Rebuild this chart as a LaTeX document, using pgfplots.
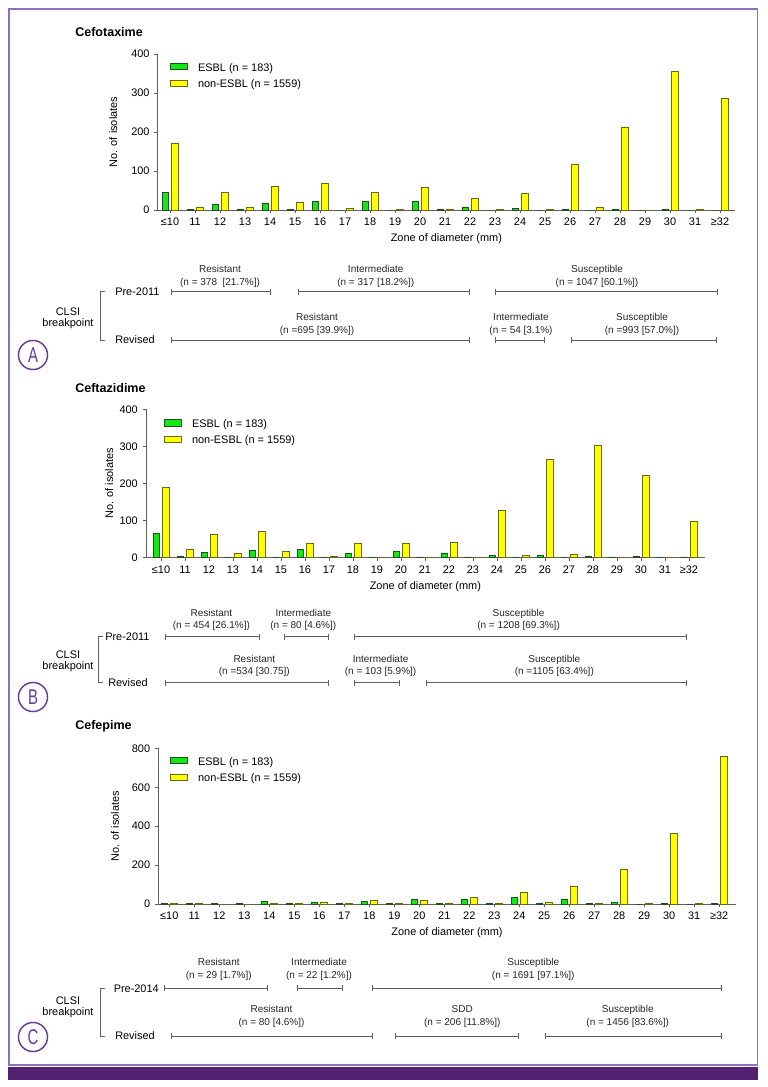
\documentclass[border=0pt]{standalone}
\usepackage{fontspec}
\setmainfont{Liberation Sans}
\usepackage{pgfplots}
\usepackage{pgfplotstable}
\pgfplotsset{compat=1.18}
\usetikzlibrary{arrows.meta}

\definecolor{framecol}{RGB}{145,110,190}
\definecolor{bandcol}{RGB}{84,32,112}
\definecolor{circcol}{RGB}{105,60,155}
\definecolor{esblfill}{RGB}{20,232,20}
\definecolor{esbldraw}{RGB}{30,80,30}
\definecolor{nonfill}{RGB}{255,255,0}
\definecolor{nondraw}{RGB}{105,105,20}
\definecolor{axisgray}{RGB}{95,95,95}

% k: 0 = <=10, 1 = 11, ..., 21 = 31, 22 = >=32
\pgfplotstableread{
k esbl non
0 46 170
1 2 7
2 14 44
3 1 8
4 18 60
5 2 19
6 23 68
7 0 5
8 21 44
9 0 2
10 23 57
11 2 2
12 8 29
13 0 2
14 4 42
15 0 1
16 2 116
17 0 8
18 1 213
19 0 0
20 2 355
21 0 2
22 0 285
}\cefotaxime

\pgfplotstableread{
k esbl non
0 65 189
1 3 22
2 14 61
3 0 10
4 19 70
5 0 16
6 22 37
7 0 3
8 10 37
9 0 0
10 16 39
11 1 0
12 12 41
13 1 0
14 6 127
15 0 6
16 4 265
17 0 9
18 3 303
19 1 0
20 3 221
21 0 0
22 1 98
}\ceftazidime

\pgfplotstableread{
k esbl non
0 2 2
1 1 2
2 2 0
3 1 0
4 15 2
5 1 2
6 10 8
7 1 2
8 14 19
9 1 2
10 22 19
11 1 2
12 22 35
13 2 2
14 36 61
15 2 9
16 26 89
17 1 3
18 10 178
19 0 2
20 1 363
21 0 1
22 1 757
}\cefepime

\newcommand{\seg}[3]{\draw[bpline] ([yshift=-#1*0.75pt]axis cs:#2,0) -- ([yshift=-#1*0.75pt]axis cs:#3,0);}
\newcommand{\seglab}[3]{\node[bplab] at ([yshift=-#1*0.75pt]axis cs:#2,0) {#3};}

\tikzset{
  bpline/.style={draw=axisgray,line width=0.6pt,{Bar[width=4.5pt]}-{Bar[width=4.5pt]}},
  bplab/.style={align=center,inner sep=0pt,font=\fontsize{7.5}{9.5}\selectfont,text=black!85},
  side/.style={inner sep=0pt,font=\fontsize{8.2}{9}\selectfont},
}

\pgfplotsset{
  zonebars/.style={
    scale only axis, anchor=south west,
    axis lines=left, axis line style={axisgray,line width=0.6pt,-},
    ybar=2.3pt, bar width=4.8pt, enlargelimits=false, clip=false,
    ymin=0,
    xtick={0,...,22},
    xticklabels={≤10,11,12,13,14,15,16,17,18,19,20,21,22,23,24,25,26,27,28,29,30,31,≥32},
    tick align=outside, major tick length=2.6pt,
    tick style={axisgray,line width=0.6pt},
    tick label style={font=\fontsize{8.2}{9}\selectfont},
    /pgf/number format/assume math mode=true,
    label style={font=\fontsize{8.2}{9}\selectfont},
    xlabel={Zone of diameter (mm)},
    ylabel={No. of isolates},
    xlabel style={at={(axis description cs:0.5,0)},anchor=center,yshift=-21.75pt},
    legend cell align=left,
    legend style={draw=none,fill=none,inner sep=0pt,anchor=north west,
      at={(axis description cs:0,1)},row sep=4.6pt,column sep=7.5pt,
      nodes={inner sep=0pt,text height=6pt,text depth=1.8pt,font=\fontsize{8.2}{9}\selectfont}},
  },
  legbox/.style={legend image code/.code={\draw[##1] (0pt,-1.0pt) rectangle (12.8pt,3.6pt);}},
  esblbar/.style={fill=esblfill,draw=esbldraw,line width=0.55pt,legbox},
  nonbar/.style={fill=nonfill,draw=nondraw,line width=0.55pt,legbox},
}

\begin{document}
\begin{tikzpicture}
\path[use as bounding box] (0,0) rectangle (575.25pt,-815.25pt);

% A: Cefotaxime
\begin{axis}[zonebars, at={(118.28pt,-157.5pt)}, width=432.98pt, height=117pt,
  xmin=-0.492, xmax=22.6, ymax=400, ytick={0,100,200,300,400},
  ylabel style={at={(axis description cs:-0.077,0.5)},anchor=center},
  legend style={xshift=9.2pt,yshift=-6.65pt}]
\addplot[esblbar] table[x=k,y=esbl] {\cefotaxime};
\addplot[nonbar] table[x=k,y=non] {\cefotaxime};
\legend{ESBL (n = 183),non-ESBL (n = 1559)}
\seg{81.7}{0.05}{4.02}
\seglab{66.1}{2.0}{Resistant\\(n = 378\ \ [21.7\%])}
\seg{81.7}{5.1}{12}
\seglab{66.1}{8.23}{Intermediate\\(n = 317 [18.2\%])}
\seg{81.7}{13}{21.9}
\seglab{66.1}{17.08}{Susceptible\\(n = 1047 [60.1\%])}
\seg{130}{0.05}{12}
\seglab{114.2}{5.88}{Resistant\\(n =695 [39.9\%])}
\seg{130}{13}{15}
\seglab{114.2}{14.04}{Intermediate\\(n = 54 [3.1\%)}
\seg{130}{16.04}{21.87}
\seglab{114.2}{18.88}{Susceptible\\(n =993 [57.0\%])}
\end{axis}

% B: Ceftazidime
\begin{axis}[zonebars, at={(109.5pt,-417.98pt)}, width=419.1pt, height=111pt,
  xmin=-0.625, xmax=22.66, ymax=400, ytick={0,100,200,300,400},
  ylabel style={at={(axis description cs:-0.066,0.5)},anchor=center},
  legend style={xshift=13.5pt,yshift=-7.4pt}]
\addplot[esblbar] table[x=k,y=esbl] {\ceftazidime};
\addplot[nonbar] table[x=k,y=non] {\ceftazidime};
\legend{ESBL (n = 183),non-ESBL (n = 1559)}
\seg{79.4}{0.18}{4.1}
\seglab{62.7}{2.1}{Resistant\\(n = 454 [26.1\%])}
\seg{79.4}{5.12}{7.0}
\seglab{62.7}{5.93}{Intermediate\\(n = 80 [4.6\%])}
\seg{79.4}{8.04}{21.93}
\seglab{62.7}{14.9}{Susceptible\\(n = 1208 [69.3\%])}
\seg{125.4}{0.18}{7.0}
\seglab{108.6}{3.89}{Resistant\\(n =534 [30.75])}
\seg{125.4}{8.04}{9.95}
\seglab{108.6}{9.15}{Intermediate\\(n = 103 [5.9\%])}
\seg{125.4}{11.03}{21.93}
\seglab{108.6}{16.39}{Susceptible\\(n =1105 [63.4\%])}
\end{axis}

% C: Cefepime
\begin{axis}[zonebars, at={(118.73pt,-678pt)}, width=433.05pt, height=116.78pt,
  xmin=-0.44, xmax=22.66, ymax=800, ytick={0,200,400,600,800},
  ylabel style={at={(axis description cs:-0.075,0.5)},anchor=center},
  legend style={xshift=8.8pt,yshift=-6.4pt}]
\addplot[esblbar] table[x=k,y=esbl] {\cefepime};
\addplot[nonbar] table[x=k,y=non] {\cefepime};
\legend{ESBL (n = 183),non-ESBL (n = 1559)}
\seg{84.3}{-0.2}{3.93}
\seglab{65.2}{1.98}{Resistant\\(n = 29 [1.7\%])}
\seg{84.3}{5.11}{6.96}
\seglab{65.2}{5.99}{Intermediate\\(n = 22 [1.2\%])}
\seg{84.3}{8.1}{22.09}
\seglab{65.2}{14.56}{Susceptible\\(n = 1691 [97.1\%])}
\seg{132}{0.08}{8.14}
\seglab{112.4}{4.09}{Resistant\\(n = 80 [4.6\%])}
\seg{132}{9.04}{14.0}
\seglab{112.4}{11.72}{SDD\\(n = 206 [11.8\%])}
\seg{132}{15.05}{22.09}
\seglab{112.4}{18.34}{Susceptible\\(n = 1456 [83.6\%])}
\end{axis}

\begin{scope}[x=0.75pt,y=-0.75pt]
\draw[framecol,line width=1.4pt] (9,9) rectangle (757.5,1065);
\fill[bandcol] (8.3,1066.5) rectangle (758.2,1080);
% titles
\node[anchor=west,inner sep=0pt,font=\fontsize{9.4}{10}\selectfont\bfseries] at (75,31.7) {Cefotaxime};
\node[anchor=west,inner sep=0pt,font=\fontsize{9.4}{10}\selectfont\bfseries] at (75,388.3) {Ceftazidime};
\node[anchor=west,inner sep=0pt,font=\fontsize{9.4}{10}\selectfont\bfseries] at (75,726.7) {Cefepime};
% brackets and row names
\draw[axisgray,line width=0.6pt] (105,291.7) -- (100,291.7) -- (100,340) -- (105,340);
\node[side,anchor=west] at (115,291.7) {Pre-2011};
\node[side,anchor=west] at (115,340) {Revised};
\node[side,align=center,font=\fontsize{8.2}{8.3}\selectfont] at (68,318.5) {CLSI\\breakpoint};
\draw[axisgray,line width=0.6pt] (103,636.7) -- (98,636.7) -- (98,682.7) -- (103,682.7);
\node[side,anchor=west] at (105,636.7) {Pre-2011};
\node[side,anchor=west] at (108,682.7) {Revised};
\node[side,align=center,font=\fontsize{8.2}{8.3}\selectfont] at (68,661.5) {CLSI\\breakpoint};
\draw[axisgray,line width=0.6pt] (105,988.3) -- (100,988.3) -- (100,1036) -- (105,1036);
\node[side,anchor=east] at (159,988.3) {Pre-2014};
\node[side,anchor=west] at (115,1036) {Revised};
\node[side,align=center,font=\fontsize{8.2}{8.3}\selectfont] at (68,1007.5) {CLSI\\breakpoint};
% panel letters
\foreach \yy/\ll in {355/A,697/B,1037/C}{
  \draw[circcol,line width=1.1pt] (33,\yy) circle[radius=10.9pt];
  \node[text=circcol,inner sep=0pt,font=\fontsize{16}{16}\selectfont] at (33,\yy) {\scalebox{0.7}[1]{\ll}};
}
\end{scope}
\end{tikzpicture}
\end{document}
